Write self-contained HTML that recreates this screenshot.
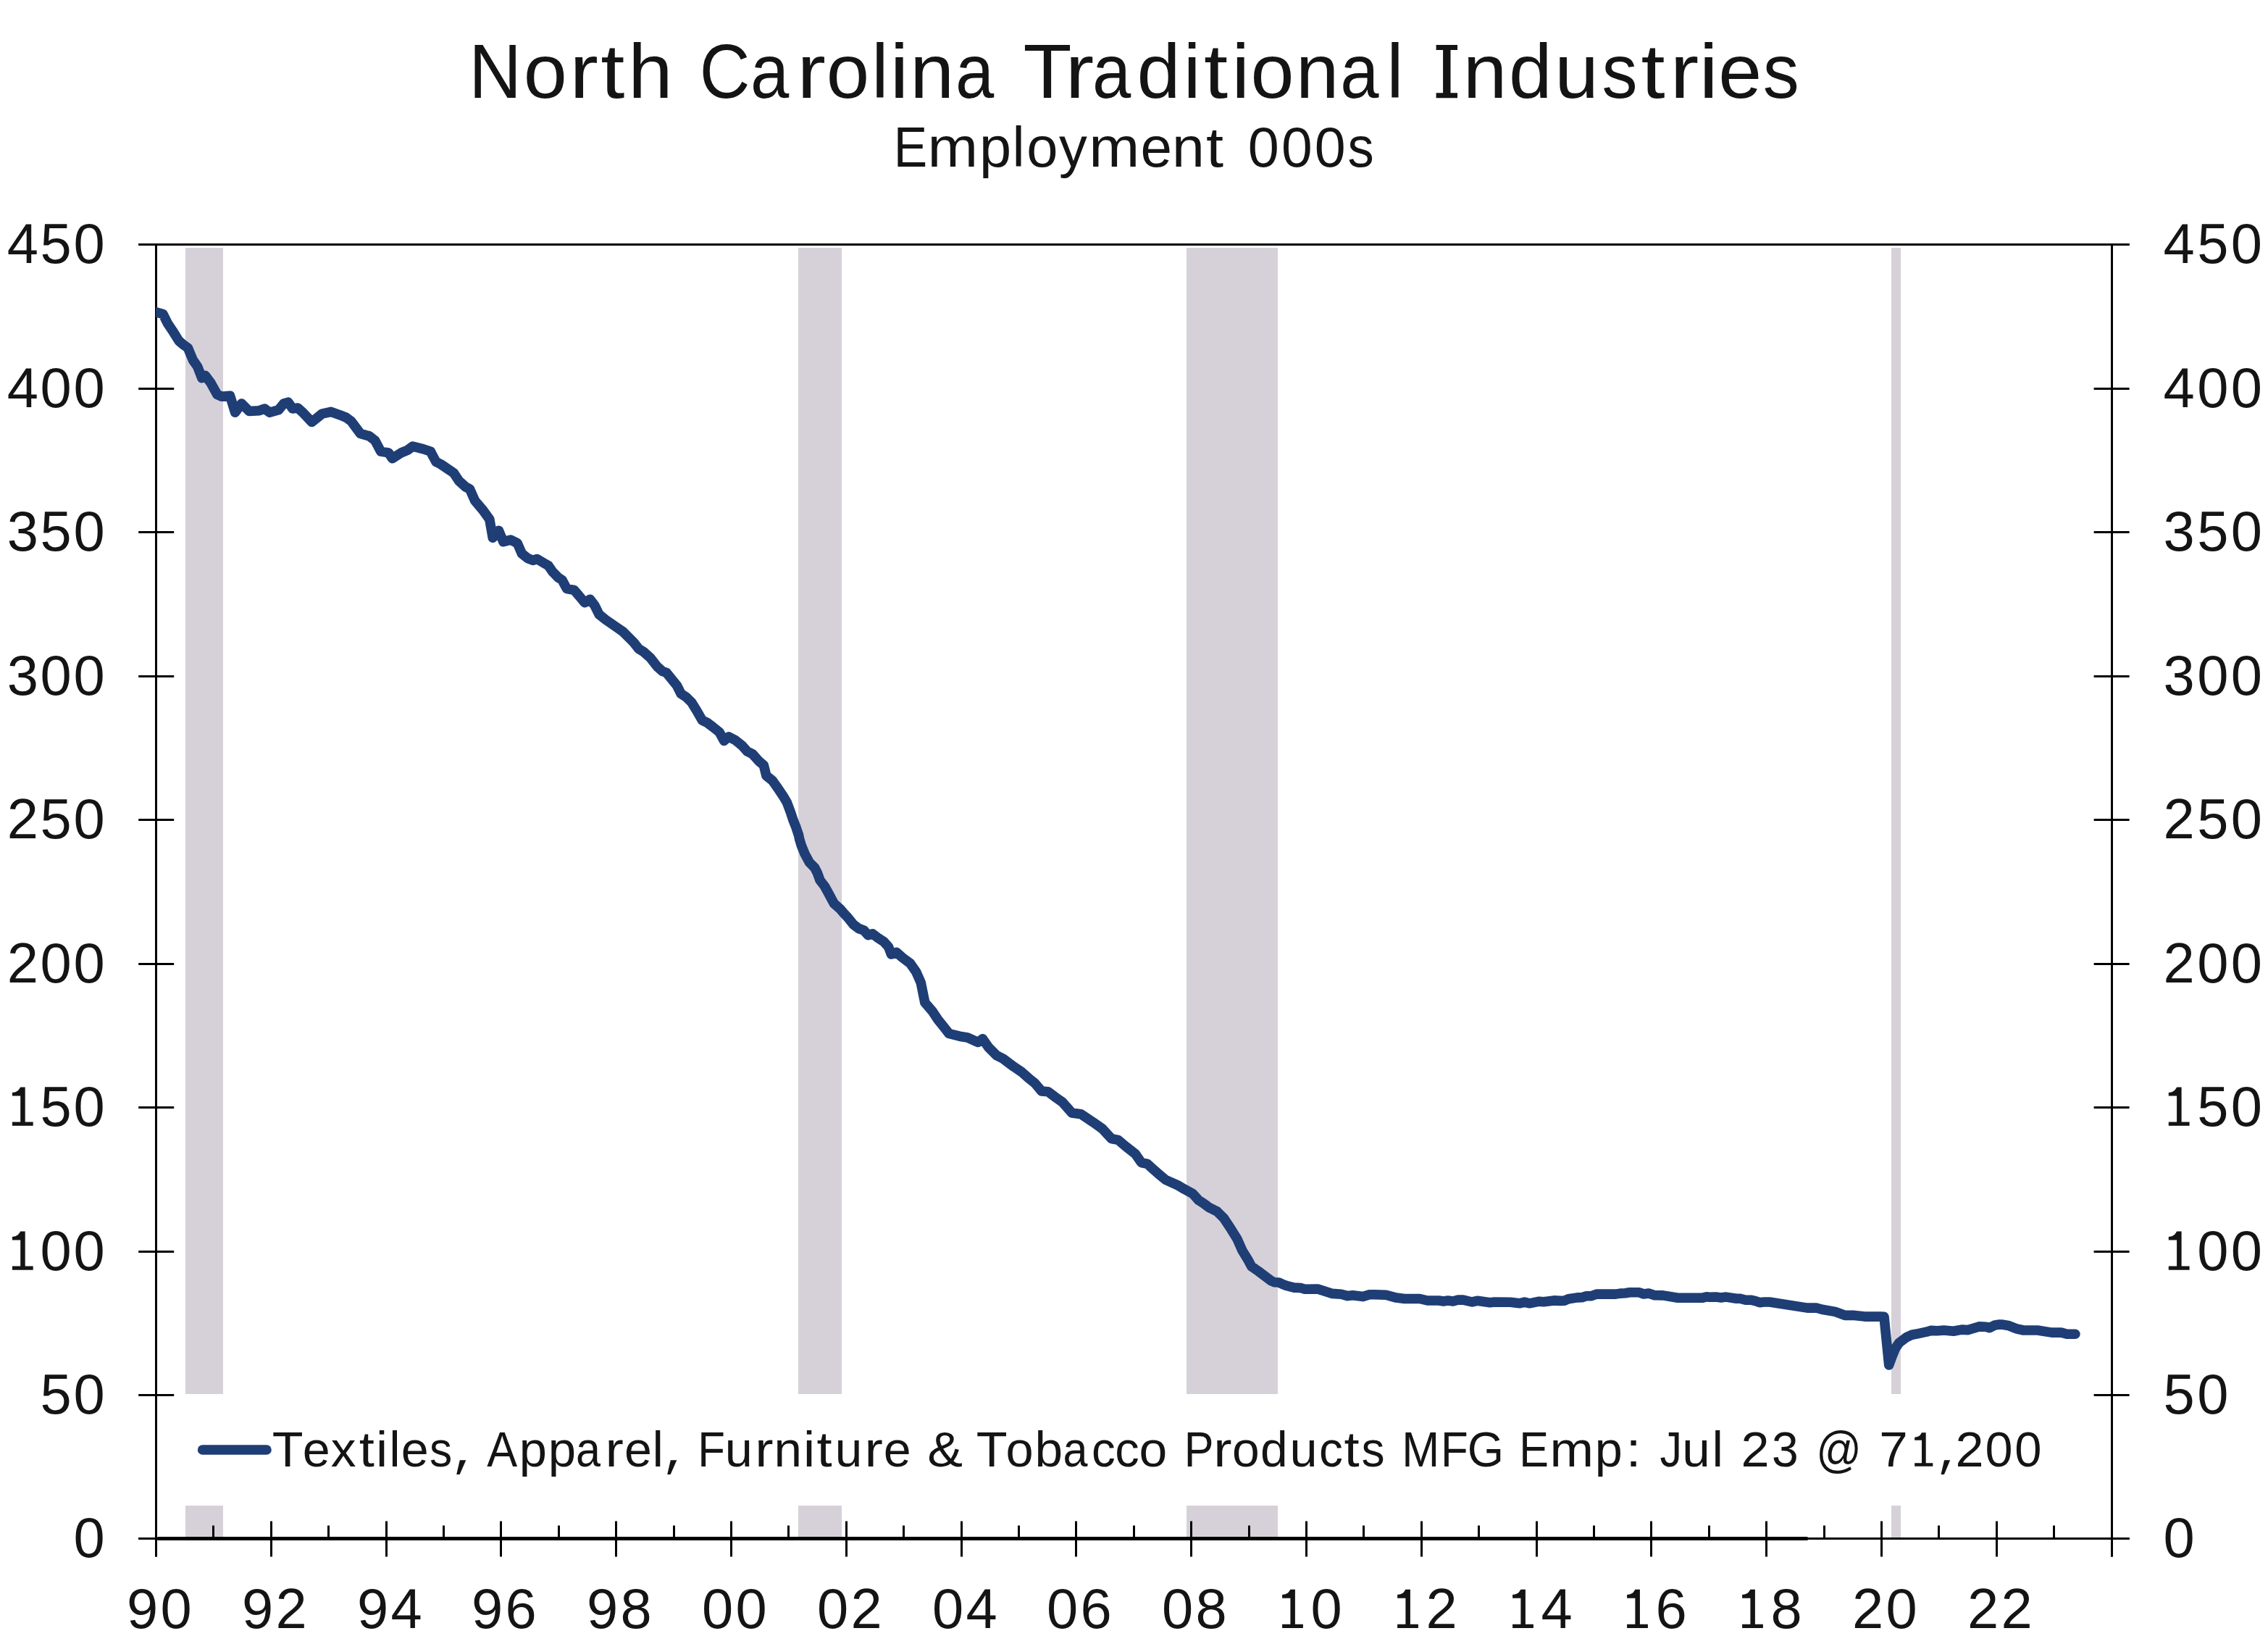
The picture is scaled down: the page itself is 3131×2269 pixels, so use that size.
<!DOCTYPE html>
<html><head><meta charset="utf-8"><style>
html,body{margin:0;padding:0;background:#fff;}
svg{display:block;}
</style></head><body>
<svg xmlns="http://www.w3.org/2000/svg" width="3131" height="2269" viewBox="0 0 3131 2269">
<rect width="3131" height="2269" fill="#fff"/>
<rect x="256" y="342" width="52" height="1582" fill="#D6D1D9"/>
<rect x="256" y="2078" width="52" height="44" fill="#D6D1D9"/>
<rect x="1102" y="342" width="60" height="1582" fill="#D6D1D9"/>
<rect x="1102" y="2078" width="60" height="44" fill="#D6D1D9"/>
<rect x="1638" y="342" width="126" height="1582" fill="#D6D1D9"/>
<rect x="1638" y="2078" width="126" height="44" fill="#D6D1D9"/>
<rect x="2611" y="342" width="13" height="1582" fill="#D6D1D9"/>
<rect x="2611" y="2078" width="13" height="44" fill="#D6D1D9"/>
<g stroke="#000" stroke-width="3" fill="none">
<line x1="191.2" y1="337.5" x2="2939.6" y2="337.5"/>
<line x1="191.2" y1="2123.5" x2="2939.6" y2="2123.5"/>
<line x1="215.5" y1="336" x2="215.5" y2="2148.5"/>
<line x1="2915.5" y1="336" x2="2915.5" y2="2148.5"/>
<line x1="191.2" y1="2123.5" x2="240.2" y2="2123.5"/>
<line x1="2890.6" y1="2123.5" x2="2939.6" y2="2123.5"/>
<line x1="191.2" y1="1925.5" x2="240.2" y2="1925.5"/>
<line x1="2890.6" y1="1925.5" x2="2939.6" y2="1925.5"/>
<line x1="191.2" y1="1727.5" x2="240.2" y2="1727.5"/>
<line x1="2890.6" y1="1727.5" x2="2939.6" y2="1727.5"/>
<line x1="191.2" y1="1528.5" x2="240.2" y2="1528.5"/>
<line x1="2890.6" y1="1528.5" x2="2939.6" y2="1528.5"/>
<line x1="191.2" y1="1330.5" x2="240.2" y2="1330.5"/>
<line x1="2890.6" y1="1330.5" x2="2939.6" y2="1330.5"/>
<line x1="191.2" y1="1131.5" x2="240.2" y2="1131.5"/>
<line x1="2890.6" y1="1131.5" x2="2939.6" y2="1131.5"/>
<line x1="191.2" y1="933.5" x2="240.2" y2="933.5"/>
<line x1="2890.6" y1="933.5" x2="2939.6" y2="933.5"/>
<line x1="191.2" y1="734.5" x2="240.2" y2="734.5"/>
<line x1="2890.6" y1="734.5" x2="2939.6" y2="734.5"/>
<line x1="191.2" y1="536.5" x2="240.2" y2="536.5"/>
<line x1="2890.6" y1="536.5" x2="2939.6" y2="536.5"/>
<line x1="191.2" y1="337.5" x2="240.2" y2="337.5"/>
<line x1="2890.6" y1="337.5" x2="2939.6" y2="337.5"/>
<line x1="215.5" y1="2099.5" x2="215.5" y2="2148.5"/>
<line x1="294.5" y1="2105.5" x2="294.5" y2="2123.5"/>
<line x1="374.5" y1="2099.5" x2="374.5" y2="2148.5"/>
<line x1="453.5" y1="2105.5" x2="453.5" y2="2123.5"/>
<line x1="533.5" y1="2099.5" x2="533.5" y2="2148.5"/>
<line x1="612.5" y1="2105.5" x2="612.5" y2="2123.5"/>
<line x1="691.5" y1="2099.5" x2="691.5" y2="2148.5"/>
<line x1="771.5" y1="2105.5" x2="771.5" y2="2123.5"/>
<line x1="850.5" y1="2099.5" x2="850.5" y2="2148.5"/>
<line x1="930.5" y1="2105.5" x2="930.5" y2="2123.5"/>
<line x1="1009.5" y1="2099.5" x2="1009.5" y2="2148.5"/>
<line x1="1088.5" y1="2105.5" x2="1088.5" y2="2123.5"/>
<line x1="1168.5" y1="2099.5" x2="1168.5" y2="2148.5"/>
<line x1="1247.5" y1="2105.5" x2="1247.5" y2="2123.5"/>
<line x1="1327.5" y1="2099.5" x2="1327.5" y2="2148.5"/>
<line x1="1406.5" y1="2105.5" x2="1406.5" y2="2123.5"/>
<line x1="1485.5" y1="2099.5" x2="1485.5" y2="2148.5"/>
<line x1="1565.5" y1="2105.5" x2="1565.5" y2="2123.5"/>
<line x1="1644.5" y1="2099.5" x2="1644.5" y2="2148.5"/>
<line x1="1724.5" y1="2105.5" x2="1724.5" y2="2123.5"/>
<line x1="1803.5" y1="2099.5" x2="1803.5" y2="2148.5"/>
<line x1="1882.5" y1="2105.5" x2="1882.5" y2="2123.5"/>
<line x1="1962.5" y1="2099.5" x2="1962.5" y2="2148.5"/>
<line x1="2041.5" y1="2105.5" x2="2041.5" y2="2123.5"/>
<line x1="2121.5" y1="2099.5" x2="2121.5" y2="2148.5"/>
<line x1="2200.5" y1="2105.5" x2="2200.5" y2="2123.5"/>
<line x1="2279.5" y1="2099.5" x2="2279.5" y2="2148.5"/>
<line x1="2359.5" y1="2105.5" x2="2359.5" y2="2123.5"/>
<line x1="2438.5" y1="2099.5" x2="2438.5" y2="2148.5"/>
<line x1="2518.5" y1="2105.5" x2="2518.5" y2="2123.5"/>
<line x1="2597.5" y1="2099.5" x2="2597.5" y2="2148.5"/>
<line x1="2676.5" y1="2105.5" x2="2676.5" y2="2123.5"/>
<line x1="2756.5" y1="2099.5" x2="2756.5" y2="2148.5"/>
<line x1="2835.5" y1="2105.5" x2="2835.5" y2="2123.5"/>
<line x1="2915.5" y1="2099.5" x2="2915.5" y2="2148.5"/>
</g>
<line x1="219" y1="2123.5" x2="2494" y2="2123.5" stroke="#000" stroke-width="5" stroke-linecap="round"/>
<clipPath id="pc"><rect x="215.2" y="300" width="2800" height="1900"/></clipPath>
<polyline clip-path="url(#pc)" points="216.2,430.9 225.0,433.5 231.2,445.9 238.2,456.4 247.0,470.5 253.2,475.8 259.4,480.2 266.4,497.0 272.6,505.8 278.8,521.7 283.2,518.2 291.1,528.7 299.9,544.6 306.1,547.3 317.6,546.4 324.6,569.3 333.5,557.0 344.0,567.5 358.1,566.7 365.2,564.0 372.3,569.3 384.6,565.8 391.7,557.0 397.8,555.2 404.0,564.0 411.1,563.1 418.1,569.3 430.5,582.5 444.6,571.1 456.9,568.4 469.3,572.8 478.1,576.4 485.1,581.7 497.5,598.4 509.8,601.9 517.8,608.1 525.7,623.1 536.3,624.9 541.6,632.8 553.9,624.9 562.7,621.3 569.8,616.0 583.9,619.6 594.5,623.1 594.6,623.7 601.9,637.4 608.2,640.5 626.5,652.9 633.8,663.9 642.9,672.1 648.4,674.8 655.7,691.2 666.6,704.0 675.8,716.8 680.3,742.3 688.5,732.3 694.9,747.8 705.0,745.1 714.1,749.6 720.5,764.2 728.7,770.6 736.0,773.4 741.5,771.5 750.6,777.0 757.0,780.7 763.4,789.8 770.7,797.1 776.1,800.7 782.5,812.6 792.6,814.4 798.9,821.7 807.2,831.8 814.5,827.2 820.8,835.4 827.2,848.2 836.4,855.5 850.9,865.5 860.1,871.9 874.7,886.5 881.8,895.5 889.1,900.1 898.2,908.3 907.4,920.2 914.7,926.6 920.1,928.4 927.4,937.5 934.7,946.6 940.2,957.6 947.5,962.2 954.8,969.5 962.1,981.3 969.4,994.1 976.7,997.7 984.0,1003.2 993.1,1010.5 999.5,1022.4 1005.9,1016.9 1015.0,1021.5 1024.2,1028.8 1031.5,1037.0 1038.8,1040.6 1047.9,1050.7 1054.3,1056.1 1057.9,1070.7 1066.1,1077.1 1073.4,1087.2 1080.7,1098.1 1086.2,1107.2 1091.7,1121.8 1095.3,1132.8 1099.0,1141.9 1099.2,1142.8 1102.6,1152.8 1103.7,1158.3 1106.5,1167.4 1111.0,1178.4 1117.4,1190.3 1124.7,1197.6 1128.4,1204.9 1132.0,1214.9 1138.4,1223.1 1143.9,1233.1 1151.2,1246.8 1159.4,1254.1 1165.8,1261.4 1170.9,1266.9 1178.2,1276.0 1185.5,1281.5 1192.8,1284.2 1198.3,1290.6 1204.7,1288.8 1212.9,1295.1 1220.2,1299.7 1226.6,1307.0 1230.3,1317.0 1237.6,1314.3 1245.8,1321.6 1256.7,1329.8 1264.9,1341.7 1271.3,1356.3 1276.8,1383.6 1287.7,1396.4 1295.0,1407.4 1302.3,1416.5 1310.1,1426.5 1324.7,1430.2 1335.6,1432.0 1350.2,1438.4 1356.6,1433.8 1364.8,1445.7 1375.8,1456.6 1384.9,1461.2 1399.5,1472.2 1410.4,1479.5 1419.6,1487.7 1428.7,1495.0 1437.8,1505.9 1446.9,1506.8 1457.9,1515.0 1467.0,1521.4 1479.8,1536.0 1492.6,1537.8 1509.0,1548.8 1521.8,1557.9 1534.5,1571.6 1543.6,1573.4 1554.6,1582.6 1567.4,1592.6 1575.6,1604.5 1583.8,1606.3 1590.9,1612.8 1598.2,1619.2 1609.2,1628.4 1625.6,1635.7 1634.7,1641.1 1646.6,1647.5 1654.8,1656.6 1662.1,1661.2 1669.4,1666.7 1680.4,1672.2 1689.5,1681.3 1698.6,1695.0 1707.7,1709.6 1715.0,1726.0 1722.3,1737.8 1727.8,1747.9 1736.9,1754.3 1747.9,1762.5 1755.2,1768.0 1760.0,1769.8 1765.3,1770.0 1774.1,1773.9 1786.5,1777.1 1795.3,1777.5 1801.4,1779.3 1819.1,1779.1 1839.4,1785.4 1851.7,1786.2 1860.5,1788.6 1867.6,1787.7 1881.7,1789.4 1890.5,1786.8 1897.6,1786.8 1913.4,1787.3 1927.5,1791.1 1939.0,1792.5 1960.0,1792.5 1970.6,1795.0 1986.5,1795.0 1992.6,1795.9 1998.8,1795.1 2005.9,1796.0 2012.9,1794.0 2020.0,1794.1 2032.3,1797.0 2039.4,1795.3 2057.0,1797.7 2063.2,1797.0 2085.2,1797.2 2097.6,1798.8 2104.6,1797.1 2111.7,1798.8 2124.9,1796.2 2131.1,1796.7 2145.2,1794.9 2154.0,1795.4 2160.0,1795.1 2165.3,1792.8 2177.6,1790.9 2183.8,1790.7 2190.0,1788.8 2197.0,1788.6 2204.1,1786.1 2230.5,1786.1 2236.7,1785.1 2243.8,1784.8 2249.9,1783.8 2263.2,1783.8 2269.3,1786.0 2276.0,1785.1 2284.3,1787.7 2295.8,1787.9 2316.1,1791.3 2349.6,1791.3 2355.8,1789.8 2360.0,1790.3 2368.8,1790.1 2375.9,1790.9 2382.9,1790.1 2397.0,1792.3 2402.3,1792.2 2409.8,1794.2 2416.9,1794.2 2423.5,1795.7 2429.2,1797.7 2435.0,1797.0 2442.9,1797.0 2494.9,1805.1 2507.3,1805.0 2515.2,1807.2 2533.3,1810.4 2546.9,1815.4 2560.0,1815.4 2574.1,1817.1 2595.3,1817.0 2601.0,1817.3 2607.7,1884.0 2612.0,1872.1 2616.6,1860.9 2621.7,1853.4 2627.0,1849.4 2632.3,1845.4 2639.4,1842.3 2648.2,1840.6 2659.6,1838.2 2665.8,1836.4 2674.6,1836.8 2683.5,1836.0 2696.7,1837.3 2708.1,1835.1 2717.0,1835.6 2732.0,1830.9 2741.7,1831.3 2746.5,1832.7 2754.0,1828.9 2760.0,1828.1 2763.5,1828.1 2772.3,1829.4 2783.8,1833.8 2793.5,1836.0 2812.9,1836.0 2832.3,1839.1 2845.5,1839.1 2853.4,1841.3 2864.9,1841.3" fill="none" stroke="#1F3E75" stroke-width="13.6" stroke-linejoin="round" stroke-linecap="round"/>
<line x1="279.6" y1="2001" x2="368" y2="2001" stroke="#1F3E75" stroke-width="13.6" stroke-linecap="round"/>
<g font-family="Liberation Sans, sans-serif" fill="#141414">
<text transform="translate(647.23,135.2) scale(0.9473,1)" font-size="106.4">N</text>
<text transform="translate(722.76,135.2) scale(1.0152,1)" font-size="106.4">o</text>
<text transform="translate(786.19,135.2) scale(1.1200,1)" font-size="106.4">r</text>
<text transform="translate(829.18,135.2) scale(1.1200,1)" font-size="106.4">t</text>
<text transform="translate(867.26,135.2) scale(1.0359,1)" font-size="106.4">h</text>
<text transform="translate(965.80,135.2) scale(0.9068,1)" font-size="106.4">C</text>
<text transform="translate(1035.89,135.2) scale(0.9000,1)" font-size="106.4">a</text>
<text transform="translate(1100.34,135.2) scale(1.1200,1)" font-size="106.4">r</text>
<text transform="translate(1140.82,135.2) scale(1.0032,1)" font-size="106.4">o</text>
<text transform="translate(1203.15,135.2) scale(0.9838,1)" font-size="106.4">l</text>
<text transform="translate(1228.56,135.2) scale(1.1014,1)" font-size="106.4">i</text>
<text transform="translate(1256.33,135.2) scale(1.0288,1)" font-size="106.4">n</text>
<text transform="translate(1318.94,135.2) scale(0.9000,1)" font-size="106.4">a</text>
<text transform="translate(1412.53,135.2) scale(1.0322,1)" font-size="106.4">T</text>
<text transform="translate(1470.54,135.2) scale(1.1200,1)" font-size="106.4">r</text>
<text transform="translate(1508.09,135.2) scale(0.9000,1)" font-size="106.4">a</text>
<text transform="translate(1569.57,135.2) scale(1.0136,1)" font-size="106.4">d</text>
<text transform="translate(1633.65,135.2) scale(1.0052,1)" font-size="106.4">i</text>
<text transform="translate(1662.08,135.2) scale(1.1200,1)" font-size="106.4">t</text>
<text transform="translate(1700.62,135.2) scale(1.0373,1)" font-size="106.4">i</text>
<text transform="translate(1726.47,135.2) scale(1.0132,1)" font-size="106.4">o</text>
<text transform="translate(1788.92,135.2) scale(1.0022,1)" font-size="106.4">n</text>
<text transform="translate(1850.24,135.2) scale(0.9000,1)" font-size="106.4">a</text>
<text transform="translate(1914.25,135.2) scale(0.9838,1)" font-size="106.4">l</text>
<path d="M1982.6,62.0H2012.0V68.9H2002.5V128.3H2012.0V135.2H1982.6V128.3H1992.1V68.9H1982.6Z"/>
<text transform="translate(2019.66,135.2) scale(1.0244,1)" font-size="106.4">n</text>
<text transform="translate(2082.91,135.2) scale(1.0052,1)" font-size="106.4">d</text>
<text transform="translate(2146.32,135.2) scale(1.0244,1)" font-size="106.4">u</text>
<text transform="translate(2211.47,135.2) scale(0.9225,1)" font-size="106.4">s</text>
<text transform="translate(2265.38,135.2) scale(1.1200,1)" font-size="106.4">t</text>
<text transform="translate(2305.39,135.2) scale(1.1200,1)" font-size="106.4">r</text>
<text transform="translate(2345.39,135.2) scale(1.1200,1)" font-size="106.4">i</text>
<text transform="translate(2372.33,135.2) scale(1.0115,1)" font-size="106.4">e</text>
<text transform="translate(2433.72,135.2) scale(0.9398,1)" font-size="106.4">s</text>
<text transform="translate(1233.84,230.4) scale(0.9000,1)" font-size="77.3">E</text>
<text transform="translate(1280.45,230.4) scale(1.0819,1)" font-size="77.3">m</text>
<text transform="translate(1351.88,230.4) scale(1.0270,1)" font-size="77.3">p</text>
<text transform="translate(1397.39,230.4) scale(1.0009,1)" font-size="77.3">l</text>
<text transform="translate(1417.34,230.4) scale(1.0055,1)" font-size="77.3">o</text>
<text transform="translate(1461.91,230.4) scale(1.0050,1)" font-size="77.3">y</text>
<text transform="translate(1503.32,230.4) scale(1.0875,1)" font-size="77.3">m</text>
<text transform="translate(1574.38,230.4) scale(1.0118,1)" font-size="77.3">e</text>
<text transform="translate(1617.95,230.4) scale(1.0415,1)" font-size="77.3">n</text>
<text transform="translate(1665.09,230.4) scale(1.1200,1)" font-size="77.3">t</text>
<text transform="translate(1722.68,230.4) scale(1.0013,1)" font-size="77.3">0</text>
<text transform="translate(1768.90,230.4) scale(0.9932,1)" font-size="77.3">0</text>
<text transform="translate(1814.78,230.4) scale(0.9986,1)" font-size="77.3">0</text>
<text transform="translate(1860.58,230.4) scale(0.9375,1)" font-size="77.3">s</text>
<text transform="translate(375.73,2023.8) scale(1.0314,1)" font-size="67.9">T</text>
<text transform="translate(417.70,2023.8) scale(1.0044,1)" font-size="67.9">e</text>
<text transform="translate(456.82,2023.8) scale(1.0229,1)" font-size="67.9">x</text>
<text transform="translate(495.69,2023.8) scale(1.1200,1)" font-size="67.9">t</text>
<text transform="translate(519.03,2023.8) scale(1.0724,1)" font-size="67.9">i</text>
<text transform="translate(537.32,2023.8) scale(1.0222,1)" font-size="67.9">l</text>
<text transform="translate(553.80,2023.8) scale(1.0044,1)" font-size="67.9">e</text>
<text transform="translate(593.06,2023.8) scale(0.9187,1)" font-size="67.9">s</text>
<path d="M634.8,2015.2 L643.3,2015.2 L634.6,2035.1 L630.2,2035.1Z"/>
<text transform="translate(672.28,2023.8) scale(0.9262,1)" font-size="67.9">A</text>
<text transform="translate(716.67,2023.8) scale(1.0119,1)" font-size="67.9">p</text>
<text transform="translate(756.66,2023.8) scale(1.0152,1)" font-size="67.9">p</text>
<text transform="translate(795.11,2023.8) scale(0.9000,1)" font-size="67.9">a</text>
<text transform="translate(835.49,2023.8) scale(1.1200,1)" font-size="67.9">r</text>
<text transform="translate(862.00,2023.8) scale(1.0044,1)" font-size="67.9">e</text>
<text transform="translate(900.52,2023.8) scale(1.0222,1)" font-size="67.9">l</text>
<path d="M925.8,2015.2 L934.3,2015.2 L925.6,2035.1 L921.2,2035.1Z"/>
<text transform="translate(963.33,2023.8) scale(0.9100,1)" font-size="67.9">F</text>
<text transform="translate(1000.65,2023.8) scale(1.0089,1)" font-size="67.9">u</text>
<text transform="translate(1042.34,2023.8) scale(1.1200,1)" font-size="67.9">r</text>
<text transform="translate(1068.60,2023.8) scale(1.0193,1)" font-size="67.9">n</text>
<text transform="translate(1109.03,2023.8) scale(1.0724,1)" font-size="67.9">i</text>
<text transform="translate(1127.49,2023.8) scale(1.1200,1)" font-size="67.9">t</text>
<text transform="translate(1152.71,2023.8) scale(0.9950,1)" font-size="67.9">u</text>
<text transform="translate(1193.54,2023.8) scale(1.1200,1)" font-size="67.9">r</text>
<text transform="translate(1219.70,2023.8) scale(1.0044,1)" font-size="67.9">e</text>
<text transform="translate(1280.23,2023.8) scale(1.0779,1)" font-size="67.9">&amp;</text>
<text transform="translate(1347.72,2023.8) scale(1.0341,1)" font-size="67.9">T</text>
<text transform="translate(1388.62,2023.8) scale(1.0106,1)" font-size="67.9">o</text>
<text transform="translate(1428.53,2023.8) scale(1.0218,1)" font-size="67.9">b</text>
<text transform="translate(1467.41,2023.8) scale(0.9000,1)" font-size="67.9">a</text>
<text transform="translate(1507.02,2023.8) scale(0.9633,1)" font-size="67.9">c</text>
<text transform="translate(1539.26,2023.8) scale(0.9838,1)" font-size="67.9">c</text>
<text transform="translate(1572.57,2023.8) scale(1.0262,1)" font-size="67.9">o</text>
<text transform="translate(1634.82,2023.8) scale(0.9000,1)" font-size="67.9">P</text>
<text transform="translate(1675.19,2023.8) scale(1.1200,1)" font-size="67.9">r</text>
<text transform="translate(1701.05,2023.8) scale(0.9981,1)" font-size="67.9">o</text>
<text transform="translate(1740.05,2023.8) scale(0.9989,1)" font-size="67.9">d</text>
<text transform="translate(1780.55,2023.8) scale(1.0089,1)" font-size="67.9">u</text>
<text transform="translate(1821.10,2023.8) scale(0.9701,1)" font-size="67.9">c</text>
<text transform="translate(1855.39,2023.8) scale(1.1200,1)" font-size="67.9">t</text>
<text transform="translate(1879.61,2023.8) scale(0.9457,1)" font-size="67.9">s</text>
<text transform="translate(1935.19,2023.8) scale(0.9181,1)" font-size="67.9">M</text>
<text transform="translate(1988.93,2023.8) scale(0.9100,1)" font-size="67.9">F</text>
<text transform="translate(2025.65,2023.8) scale(0.9520,1)" font-size="67.9">G</text>
<text transform="translate(2097.23,2023.8) scale(0.9000,1)" font-size="67.9">E</text>
<text transform="translate(2139.48,2023.8) scale(1.0699,1)" font-size="67.9">m</text>
<text transform="translate(2201.79,2023.8) scale(1.0087,1)" font-size="67.9">p</text>
<text transform="translate(2244.59,2023.8) scale(1.1200,1)" font-size="67.9">:</text>
<text transform="translate(2291.41,2023.8) scale(0.9000,1)" font-size="67.9">J</text>
<text transform="translate(2322.21,2023.8) scale(1.0193,1)" font-size="67.9">u</text>
<text transform="translate(2363.42,2023.8) scale(1.0222,1)" font-size="67.9">l</text>
<text transform="translate(2403.47,2023.8) scale(1.0345,1)" font-size="67.9">2</text>
<text transform="translate(2445.89,2023.8) scale(0.9723,1)" font-size="67.9">3</text>
<text transform="translate(2507.34,2023.8) scale(0.9113,1)" font-size="67.9">@</text>
<text transform="translate(2594.36,2023.8) scale(1.0464,1)" font-size="67.9">7</text>
<path d="M2653.0,1977.3 L2658.7,1977.3 L2658.7,2019.3 L2668.3,2019.3 L2668.3,2023.8 L2643.2,2023.8 L2643.2,2019.3 L2653.0,2019.3 L2653.0,1987.8 L2643.2,1987.8 L2643.2,1983.8 L2647.0,1983.1 L2650.1,1981.4 L2651.8,1979.2Z"/>
<path d="M2684.1,2015.2 L2692.2,2015.2 L2683.9,2035.1 L2679.5,2035.1Z"/>
<text transform="translate(2699.57,2023.8) scale(1.0345,1)" font-size="67.9">2</text>
<text transform="translate(2740.43,2023.8) scale(1.0075,1)" font-size="67.9">0</text>
<text transform="translate(2781.19,2023.8) scale(0.9859,1)" font-size="67.9">0</text>
<text x="101.5" y="2148.8" font-size="77.7">0</text>
<text x="2986.6" y="2148.8" font-size="77.7">0</text>
<text x="55.6" y="1950.8" font-size="77.7">5</text>
<text x="101.5" y="1950.8" font-size="77.7">0</text>
<text x="2986.6" y="1950.8" font-size="77.7">5</text>
<text x="3033.2" y="1950.8" font-size="77.7">0</text>
<path d="M28.2,1699.6 L34.7,1699.6 L34.7,1747.6 L45.7,1747.6 L45.7,1752.8 L16.9,1752.8 L16.9,1747.6 L28.2,1747.6 L28.2,1711.6 L16.9,1711.6 L16.9,1707.0 L21.3,1706.2 L24.8,1704.3 L26.8,1701.8Z"/>
<text x="55.6" y="1752.8" font-size="77.7">0</text>
<text x="101.5" y="1752.8" font-size="77.7">0</text>
<path d="M3005.1,1699.6 L3011.6,1699.6 L3011.6,1747.6 L3022.6,1747.6 L3022.6,1752.8 L2993.8,1752.8 L2993.8,1747.6 L3005.1,1747.6 L3005.1,1711.6 L2993.8,1711.6 L2993.8,1707.0 L2998.2,1706.2 L3001.7,1704.3 L3003.7,1701.8Z"/>
<text x="3033.2" y="1752.8" font-size="77.7">0</text>
<text x="3079.8" y="1752.8" font-size="77.7">0</text>
<path d="M28.2,1500.6 L34.7,1500.6 L34.7,1548.6 L45.7,1548.6 L45.7,1553.8 L16.9,1553.8 L16.9,1548.6 L28.2,1548.6 L28.2,1512.6 L16.9,1512.6 L16.9,1508.0 L21.3,1507.2 L24.8,1505.3 L26.8,1502.8Z"/>
<text x="55.6" y="1553.8" font-size="77.7">5</text>
<text x="101.5" y="1553.8" font-size="77.7">0</text>
<path d="M3005.1,1500.6 L3011.6,1500.6 L3011.6,1548.6 L3022.6,1548.6 L3022.6,1553.8 L2993.8,1553.8 L2993.8,1548.6 L3005.1,1548.6 L3005.1,1512.6 L2993.8,1512.6 L2993.8,1508.0 L2998.2,1507.2 L3001.7,1505.3 L3003.7,1502.8Z"/>
<text x="3033.2" y="1553.8" font-size="77.7">5</text>
<text x="3079.8" y="1553.8" font-size="77.7">0</text>
<text x="9.7" y="1355.8" font-size="77.7">2</text>
<text x="55.6" y="1355.8" font-size="77.7">0</text>
<text x="101.5" y="1355.8" font-size="77.7">0</text>
<text x="2986.6" y="1355.8" font-size="77.7">2</text>
<text x="3033.2" y="1355.8" font-size="77.7">0</text>
<text x="3079.8" y="1355.8" font-size="77.7">0</text>
<text x="9.7" y="1156.8" font-size="77.7">2</text>
<text x="55.6" y="1156.8" font-size="77.7">5</text>
<text x="101.5" y="1156.8" font-size="77.7">0</text>
<text x="2986.6" y="1156.8" font-size="77.7">2</text>
<text x="3033.2" y="1156.8" font-size="77.7">5</text>
<text x="3079.8" y="1156.8" font-size="77.7">0</text>
<text x="9.7" y="958.8" font-size="77.7">3</text>
<text x="55.6" y="958.8" font-size="77.7">0</text>
<text x="101.5" y="958.8" font-size="77.7">0</text>
<text x="2986.6" y="958.8" font-size="77.7">3</text>
<text x="3033.2" y="958.8" font-size="77.7">0</text>
<text x="3079.8" y="958.8" font-size="77.7">0</text>
<text x="9.7" y="759.8" font-size="77.7">3</text>
<text x="55.6" y="759.8" font-size="77.7">5</text>
<text x="101.5" y="759.8" font-size="77.7">0</text>
<text x="2986.6" y="759.8" font-size="77.7">3</text>
<text x="3033.2" y="759.8" font-size="77.7">5</text>
<text x="3079.8" y="759.8" font-size="77.7">0</text>
<text x="9.7" y="561.8" font-size="77.7">4</text>
<text x="55.6" y="561.8" font-size="77.7">0</text>
<text x="101.5" y="561.8" font-size="77.7">0</text>
<text x="2986.6" y="561.8" font-size="77.7">4</text>
<text x="3033.2" y="561.8" font-size="77.7">0</text>
<text x="3079.8" y="561.8" font-size="77.7">0</text>
<text x="9.7" y="362.8" font-size="77.7">4</text>
<text x="55.6" y="362.8" font-size="77.7">5</text>
<text x="101.5" y="362.8" font-size="77.7">0</text>
<text x="2986.6" y="362.8" font-size="77.7">4</text>
<text x="3033.2" y="362.8" font-size="77.7">5</text>
<text x="3079.8" y="362.8" font-size="77.7">0</text>
<text x="174.9" y="2246.9" font-size="77.7">9</text>
<text x="221.4" y="2246.9" font-size="77.7">0</text>
<text x="333.9" y="2246.9" font-size="77.7">9</text>
<text x="380.4" y="2246.9" font-size="77.7">2</text>
<text x="492.9" y="2246.9" font-size="77.7">9</text>
<text x="539.4" y="2246.9" font-size="77.7">4</text>
<text x="650.9" y="2246.9" font-size="77.7">9</text>
<text x="697.4" y="2246.9" font-size="77.7">6</text>
<text x="809.9" y="2246.9" font-size="77.7">9</text>
<text x="856.4" y="2246.9" font-size="77.7">8</text>
<text x="968.9" y="2246.9" font-size="77.7">0</text>
<text x="1015.4" y="2246.9" font-size="77.7">0</text>
<text x="1127.9" y="2246.9" font-size="77.7">0</text>
<text x="1174.4" y="2246.9" font-size="77.7">2</text>
<text x="1286.9" y="2246.9" font-size="77.7">0</text>
<text x="1333.4" y="2246.9" font-size="77.7">4</text>
<text x="1444.9" y="2246.9" font-size="77.7">0</text>
<text x="1491.4" y="2246.9" font-size="77.7">6</text>
<text x="1603.9" y="2246.9" font-size="77.7">0</text>
<text x="1650.4" y="2246.9" font-size="77.7">8</text>
<path d="M1781.4,2193.7 L1787.9,2193.7 L1787.9,2241.7 L1798.9,2241.7 L1798.9,2246.9 L1770.1,2246.9 L1770.1,2241.7 L1781.4,2241.7 L1781.4,2205.7 L1770.1,2205.7 L1770.1,2201.1 L1774.5,2200.3 L1778.0,2198.4 L1780.0,2195.9Z"/>
<text x="1809.4" y="2246.9" font-size="77.7">0</text>
<path d="M1940.4,2193.7 L1946.9,2193.7 L1946.9,2241.7 L1957.9,2241.7 L1957.9,2246.9 L1929.1,2246.9 L1929.1,2241.7 L1940.4,2241.7 L1940.4,2205.7 L1929.1,2205.7 L1929.1,2201.1 L1933.5,2200.3 L1937.0,2198.4 L1939.0,2195.9Z"/>
<text x="1968.4" y="2246.9" font-size="77.7">2</text>
<path d="M2099.4,2193.7 L2105.9,2193.7 L2105.9,2241.7 L2116.9,2241.7 L2116.9,2246.9 L2088.1,2246.9 L2088.1,2241.7 L2099.4,2241.7 L2099.4,2205.7 L2088.1,2205.7 L2088.1,2201.1 L2092.5,2200.3 L2096.0,2198.4 L2098.0,2195.9Z"/>
<text x="2127.4" y="2246.9" font-size="77.7">4</text>
<path d="M2257.4,2193.7 L2263.9,2193.7 L2263.9,2241.7 L2274.9,2241.7 L2274.9,2246.9 L2246.1,2246.9 L2246.1,2241.7 L2257.4,2241.7 L2257.4,2205.7 L2246.1,2205.7 L2246.1,2201.1 L2250.5,2200.3 L2254.0,2198.4 L2256.0,2195.9Z"/>
<text x="2285.4" y="2246.9" font-size="77.7">6</text>
<path d="M2416.4,2193.7 L2422.9,2193.7 L2422.9,2241.7 L2433.9,2241.7 L2433.9,2246.9 L2405.1,2246.9 L2405.1,2241.7 L2416.4,2241.7 L2416.4,2205.7 L2405.1,2205.7 L2405.1,2201.1 L2409.5,2200.3 L2413.0,2198.4 L2415.0,2195.9Z"/>
<text x="2444.4" y="2246.9" font-size="77.7">8</text>
<text x="2556.9" y="2246.9" font-size="77.7">2</text>
<text x="2603.4" y="2246.9" font-size="77.7">0</text>
<text x="2715.9" y="2246.9" font-size="77.7">2</text>
<text x="2762.4" y="2246.9" font-size="77.7">2</text>
</g>
</svg>
</body></html>
